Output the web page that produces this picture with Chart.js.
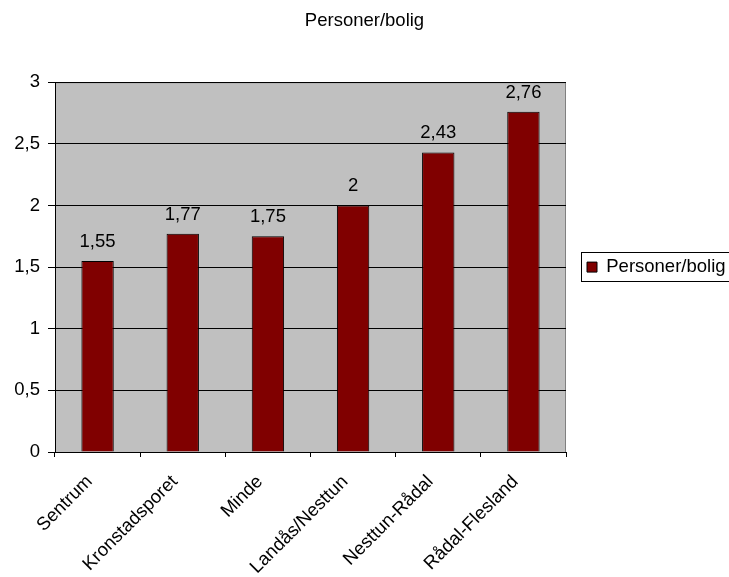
<!DOCTYPE html>
<html>
<head>
<meta charset="utf-8">
<script src="https://cdn.jsdelivr.net/npm/chart.js@4/dist/chart.umd.min.js"></script>
<style>
  html, body { margin: 0; padding: 0; background: #fff; }
  #wrap { width: 729px; height: 577px; }
</style>
</head>
<body>
<div id="wrap"><canvas id="myCanvas" width="729" height="577"></canvas></div>
<script>
const categories = ["Sentrum", "Kronstadsporet", "Minde", "Landås/Nesttun", "Nesttun-Rådal", "Rådal-Flesland"];
const personerBolig = [1.55, 1.77, 1.75, 2, 2.43, 2.76];
const yTicks = [0, 0.5, 1, 1.5, 2, 2.5, 3];

const FONT = "'Liberation Sans', Arial, sans-serif";
const comma = (v) => String(v).replace(".", ",");

// grey plot area with a dark frame on top/right
const plotBackground = {
  id: "plotBackground",
  beforeDraw(chart) {
    const { ctx, chartArea: a } = chart;
    ctx.save();
    ctx.fillStyle = "#c0c0c0";
    ctx.fillRect(a.left, a.top, a.right - a.left, a.bottom - a.top);
    ctx.strokeStyle = "#808080";
    ctx.lineWidth = 1;
    ctx.beginPath();
    ctx.moveTo(a.left, a.top + 0.5);
    ctx.lineTo(a.right - 0.5, a.top + 0.5);
    ctx.lineTo(a.right - 0.5, a.bottom);
    ctx.stroke();
    ctx.restore();
  }
};

// value labels above each bar
const valueLabels = {
  id: "valueLabels",
  afterDatasetsDraw(chart) {
    const { ctx } = chart;
    ctx.save();
    ctx.font = "18.5px " + FONT;
    ctx.fillStyle = "#000";
    ctx.textAlign = "center";
    ctx.textBaseline = "alphabetic";
    chart.getDatasetMeta(0).data.forEach((bar, i) => {
      ctx.fillText(comma(chart.data.datasets[0].data[i]), bar.x, bar.y - 14);
    });
    ctx.restore();
  }
};

// frame round the legend
const legendBorder = {
  id: "legendBorder",
  afterDraw(chart) {
    const boxes = chart.legend.legendHitBoxes;
    if (!boxes || !boxes.length) return;
    const b = boxes[0];
    const cy = Math.round(b.top + b.height / 2);
    const { ctx } = chart;
    ctx.save();
    ctx.strokeStyle = "#000";
    ctx.lineWidth = 1;
    ctx.strokeRect(Math.round(b.left) - 5.5, cy - 14.5, 200, 29);
    ctx.restore();
  }
};

new Chart(document.getElementById("myCanvas").getContext("2d"), {
  type: "bar",
  data: {
    labels: categories,
    datasets: [{
      label: "Personer/bolig",
      data: personerBolig,
      backgroundColor: "#800000",
      borderColor: "#000",
      borderWidth: 1,
      categoryPercentage: 1,
      barPercentage: 0.38
    }]
  },
  options: {
    responsive: false,
    animation: false,
    layout: { padding: { left: 0, right: 0, top: 0, bottom: 0 } },
    plugins: {
      title: {
        display: true,
        text: "Personer/bolig",
        color: "#000",
        font: { family: FONT, size: 18.5, weight: "normal" },
        padding: { top: 10, bottom: 50 }
      },
      legend: {
        position: "right",
        fullSize: false,
        maxWidth: 163,
        labels: {
          color: "#000",
          font: { family: FONT, size: 18.5 },
          boxWidth: 10,
          boxHeight: 10,
          padding: 21
        }
      },
      tooltip: { enabled: false }
    },
    scales: {
      x: {
        grid: { drawOnChartArea: false, color: "#000", tickLength: 5, offset: true },
        border: { color: "#000", width: 1 },
        ticks: {
          color: "#000",
          font: { family: FONT, size: 18.5 },
          minRotation: 45,
          maxRotation: 45,
          padding: 14,
          labelOffset: -8,
          autoSkip: false
        },
        afterFit(scale) { scale.height = 125; }
      },
      y: {
        min: 0,
        max: 3,
        afterBuildTicks(scale) { scale.ticks = yTicks.map((v) => ({ value: v })); },
        grid: { color: "#000", tickLength: 7 },
        border: { color: "#000", width: 1 },
        ticks: {
          color: "#000",
          font: { family: FONT, size: 18.5 },
          padding: 8,
          callback: (v) => comma(v)
        },
        afterFit(scale) { scale.width = 55; }
      }
    }
  },
  plugins: [plotBackground, valueLabels, legendBorder]
});
</script>
</body>
</html>
